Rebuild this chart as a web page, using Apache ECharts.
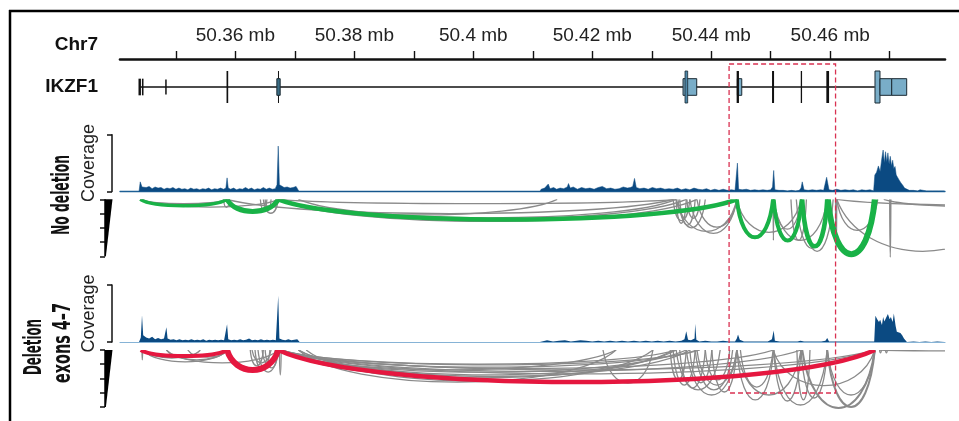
<!DOCTYPE html>
<html>
<head>
<meta charset="utf-8">
<script src="https://cdn.jsdelivr.net/npm/echarts@6/dist/echarts.min.js"></script>
<style>html,body{margin:0;padding:0;background:#fff}#c{width:959px;height:421px}</style>
</head>
<body>
<div id="c"></div>
<script>
// ---------------- data ----------------
const XMIN = 50.3406, XMAX = 50.4793;
const tickValues = [50.35, 50.36, 50.37, 50.38, 50.39, 50.40, 50.41, 50.42, 50.43, 50.44, 50.45, 50.46, 50.47];
const labelValues = [50.36, 50.38, 50.40, 50.42, 50.44, 50.46];

// gene model: [start, end, half height, kind] kind 0=black bar,1=light box,2=dark box,3=blue tall bar
const intron = [[50.3438, 50.4675]];
const geneParts = [
  [50.34371, 50.34412, 0.52, 0],
  [50.34429, 50.34455, 0.52, 0],
  [50.34820, 50.34845, 0.47, 0],
  [50.35851, 50.35879, 1, 0],
  [50.36716, 50.36732, 1, 0],
  [50.36697, 50.36753, 0.52, 2],
  [50.43526, 50.43756, 0.52, 1],
  [50.43559, 50.43604, 1, 3],
  [50.44439, 50.44513, 0.52, 1],
  [50.44427, 50.44466, 1, 0],
  [50.45022, 50.45056, 1, 0],
  [50.45505, 50.45527, 1, 0],
  [50.45935, 50.45981, 1, 0],
  [50.46753, 50.46837, 1, 1],
  [50.46837, 50.47034, 0.52, 1],
  [50.47034, 50.47286, 0.52, 1]
];
const exonLabels = ['1', '2', '3', '4', '5', '6', '7', '8'];
const exonLabelPos = [50.3440, 50.35862, 50.36719, 50.44429, 50.45027, 50.45504, 50.45958, 50.47017];
const deletionRegion = [[50.4430, 50.4609]];

// coverage [position mb, coverage]
const covNoDel = [
[50.3438,0],[50.3440,17],[50.3443,8],[50.3445,11],[50.3450,7],[50.3455,9],[50.3460,5],[50.3465,8],[50.3470,6],[50.3475,7],
[50.3480,4],[50.3485,6],[50.3490,5],[50.3495,7],[50.3500,4],[50.3505,6],[50.3510,4],[50.3515,5],[50.3520,3],[50.3525,6],
[50.3530,4],[50.3535,5],[50.3540,3],[50.3545,5],[50.3550,4],[50.3555,6],[50.3560,3],[50.3565,5],[50.3570,4],[50.3575,6],
[50.3580,4],[50.3584,6],[50.3586,24],[50.3588,6],[50.3592,4],[50.3597,6],[50.3602,3],[50.3607,5],[50.3612,4],[50.3617,7],
[50.3622,4],[50.3627,6],[50.3632,3],[50.3637,5],[50.3642,4],[50.3647,7],[50.3652,4],[50.3657,6],[50.3662,4],[50.3667,5],
[50.3670,12],[50.3672,80],[50.3674,12],[50.3677,9],[50.3682,7],[50.3687,8],[50.3692,6],[50.3697,7],[50.3702,9],[50.3705,6],
[50.3707,0],
[50.4112,0],[50.4114,4],[50.4120,6],[50.4126,13],[50.4129,5],[50.4135,7],[50.4140,4],[50.4146,6],[50.4152,5],[50.4158,8],
[50.4160,14],[50.4163,6],[50.4168,8],[50.4175,4],[50.4182,7],[50.4189,5],[50.4196,6],[50.4203,4],[50.4210,7],[50.4217,9],
[50.4224,5],[50.4231,6],[50.4238,4],[50.4245,5],[50.4252,8],[50.4259,6],[50.4264,7],[50.4268,9],[50.4271,23],[50.4274,7],
[50.4280,5],[50.4287,6],[50.4294,4],[50.4301,7],[50.4308,5],[50.4315,6],[50.4322,4],[50.4329,5],[50.4336,4],[50.4343,6],
[50.4350,3],[50.4357,5],[50.4364,3],[50.4371,6],[50.4378,4],[50.4385,3],[50.4392,5],[50.4399,2],[50.4406,4],[50.4413,2],
[50.4420,4],[50.4427,2],[50.4434,3],[50.4440,2],[50.4442,4],[50.4444,50],[50.4446,4],[50.4452,3],[50.4459,4],[50.4466,2],
[50.4473,3],[50.4480,2],[50.4487,3],[50.4494,2],[50.4500,3],[50.4503,8],[50.4505,37],[50.4507,3],[50.4514,2],[50.4521,2],
[50.4528,1],[50.4535,2],[50.4542,1],[50.4548,2],[50.4551,6],[50.4553,17],[50.4556,3],[50.4563,2],[50.4570,3],[50.4577,2],
[50.4584,3],[50.4589,2],[50.4592,5],[50.4594,25],[50.4596,14],[50.4598,3],[50.4604,2],[50.4611,4],[50.4618,2],[50.4625,3],
[50.4632,2],[50.4639,3],[50.4646,1],[50.4653,3],[50.4660,2],[50.4667,3],[50.4673,1],[50.4675,29],[50.4678,34],[50.4681,45],
[50.4684,35],[50.4687,60],[50.4689,73],[50.4691,50],[50.4693,70],[50.4695,52],[50.4697,68],[50.4699,48],[50.4701,62],[50.4703,45],
[50.4705,55],[50.4707,40],[50.4709,44],[50.4711,29],[50.4713,30],[50.4716,20],[50.4719,15],[50.4722,11],[50.4725,6],[50.4728,3],
[50.4733,2],[50.4740,2],[50.4747,1],[50.4751,3],[50.4754,1],[50.4762,1],[50.4772,1],[50.4782,1],[50.4792,1]
];
const covDel = [
[50.3438,0],[50.3441,8],[50.3443,47],[50.3445,12],[50.3450,8],[50.3455,6],[50.3460,9],[50.3465,5],[50.3470,7],[50.3475,5],
[50.3480,6],[50.3482,8],[50.3484,26],[50.3486,6],[50.3491,4],[50.3496,5],[50.3501,3],[50.3506,5],[50.3511,3],[50.3516,4],
[50.3521,3],[50.3526,5],[50.3531,3],[50.3536,4],[50.3541,3],[50.3546,5],[50.3551,2],[50.3556,4],[50.3561,3],[50.3566,4],
[50.3571,3],[50.3576,4],[50.3581,3],[50.3584,5],[50.3586,31],[50.3588,5],[50.3593,3],[50.3598,4],[50.3603,3],[50.3608,5],
[50.3613,3],[50.3618,4],[50.3623,6],[50.3628,3],[50.3633,4],[50.3638,3],[50.3643,5],[50.3648,3],[50.3653,4],[50.3658,3],
[50.3663,4],[50.3668,3],[50.3670,6],[50.3672,81],[50.3674,6],[50.3679,4],[50.3684,3],[50.3689,5],[50.3694,3],[50.3699,4],
[50.3704,5],[50.3706,3],[50.3708,0],
[50.4112,0],[50.4114,2],[50.4124,3],[50.4134,1],[50.4144,2],[50.4154,3],[50.4164,1],[50.4174,2],[50.4180,3],[50.4190,2],
[50.4200,1],[50.4210,2],[50.4220,1],[50.4230,2],[50.4240,1],[50.4250,2],[50.4260,1],[50.4270,2],[50.4280,1],[50.4290,2],
[50.4300,1],[50.4310,2],[50.4320,1],[50.4330,2],[50.4340,1],[50.4350,2],[50.4355,5],[50.4358,19],[50.4361,4],[50.4366,3],
[50.4372,6],[50.4373,32],[50.4375,4],[50.4380,1],[50.4390,2],[50.4400,1],[50.4410,1],[50.4420,2],[50.4430,1],[50.4440,1],
[50.4443,6],[50.4445,13],[50.4448,4],[50.4455,1],[50.4465,1],[50.4475,1],[50.4485,1],[50.4495,1],[50.4502,5],[50.4505,20],
[50.4507,2],[50.4515,1],[50.4525,1],[50.4535,1],[50.4545,1],[50.4550,2],[50.4553,5],[50.4556,1],[50.4565,1],[50.4575,1],
[50.4585,1],[50.4592,2],[50.4595,7],[50.4598,1],[50.4610,1],[50.4620,1],[50.4630,1],[50.4640,1],[50.4650,1],[50.4660,1],
[50.4670,1],[50.4674,1],[50.4676,46],[50.4679,40],[50.4682,35],[50.4684,39],[50.4687,30],[50.4689,44],[50.4691,36],[50.4694,33],
[50.4697,49],[50.4700,40],[50.4702,44],[50.4705,35],[50.4707,50],[50.4710,28],[50.4712,18],[50.4715,20],[50.4718,16],[50.4721,12],
[50.4724,6],[50.4727,4],[50.4729,0],[50.4740,1],[50.4750,0],[50.4760,1],[50.4770,0],[50.4780,1],[50.4792,0]
];

// junction arcs: [start mb, end mb, depth, weight]
const arcsNoDelMain = [
[50.3440,50.3586,0.45,3.5],[50.3586,50.3672,0.85,5],[50.3672,50.4443,1.42,4.5],
[50.4443,50.4504,2.67,4],[50.4505,50.4552,2.9,4],[50.4553,50.4595,3.3,4.5],[50.4596,50.4675,3.85,6]
];
const arcsNoDelOther = [
[50.3440,50.3586,0.3,1.3],[50.3443,50.3672,0.55,1.3],[50.3580,50.3590,0.56,1.3],[50.3642,50.3653,0.77,1.3],
[50.3647,50.3672,0.98,1.3],[50.3650,50.3660,0.7,1.3],[50.3672,50.4341,0.3,1.3],[50.3677,50.4358,1.4,1.3],
[50.3672,50.4376,1.55,1.3],[50.3706,50.4341,1.3,1.3],[50.3672,50.4141,1.1,1.3],[50.3586,50.4336,1.0,1.3],
[50.4341,50.4358,1.68,1.3],[50.4347,50.4373,1.82,1.3],[50.4359,50.4381,1.33,1.3],[50.4364,50.4443,2.39,1.3],
[50.4341,50.4443,2.25,1.3],[50.4376,50.4443,1.96,1.3],[50.4344,50.4390,2.0,1.3],[50.4336,50.4364,1.5,1.3],
[50.4443,50.4551,2.32,1.3],[50.4504,50.4505,2.88,1.3],[50.4505,50.4595,2.88,1.3],[50.4505,50.4551,2.1,1.3],
[50.4534,50.4560,2.88,1.3],[50.4543,50.4595,3.44,1.3],[50.4551,50.4605,3.65,1.3],[50.4609,50.4611,3.65,1.3],
[50.4611,50.4680,2.18,1.3],[50.4611,50.4900,3.65,1.3],[50.4700,50.4702,4.07,1.3],[50.4690,50.5000,0.5,1.3],
[50.4611,50.5200,0.42,1.3]
];
const arcsDelMain = [
[50.3441,50.3586,0.42,4],[50.3586,50.3672,1.40,6],[50.3672,50.4675,2.25,4.5]
];
const arcsDelOther = [
[50.3443,50.3444,0.7,1.3],[50.3445,50.3586,0.84,1.3],[50.3484,50.3586,0.7,1.3],[50.3445,50.3541,0.56,1.3],
[50.3520,50.3586,0.5,1.3],[50.3484,50.3672,0.9,1.3],[50.3625,50.3647,1.12,1.3],[50.3633,50.3658,1.4,1.3],
[50.3638,50.3672,1.55,1.3],[50.3650,50.3672,1.26,1.3],[50.3645,50.3667,1.0,1.3],[50.3628,50.3660,0.9,1.3],
[50.3674,50.3677,1.75,1.3],[50.3677,50.4341,1.0,1.3],[50.3677,50.4381,1.05,1.3],[50.3672,50.4675,1.4,1.3],
[50.3672,50.4675,1.68,1.3],[50.3706,50.4240,2.25,1.3],[50.3719,50.4302,2.18,1.3],[50.3677,50.4336,1.96,1.3],
[50.3706,50.4341,1.75,1.3],[50.4218,50.4302,2.32,1.3],[50.3677,50.4240,1.4,1.3],[50.3672,50.4358,1.55,1.3],
[50.3672,50.4376,1.2,1.3],[50.3706,50.4364,1.85,1.3],[50.4331,50.4358,2.1,1.3],[50.4336,50.4373,2.46,1.3],
[50.4341,50.4415,2.8,1.3],[50.4358,50.4443,3.16,1.3],[50.4376,50.4443,2.46,1.3],[50.4390,50.4431,2.1,1.3],
[50.4401,50.4443,2.95,1.3],[50.4347,50.4390,2.67,1.3],[50.4364,50.4401,2.3,1.3],[50.4373,50.4436,2.8,1.3],
[50.4443,50.4505,3.5,1.3],[50.4449,50.4504,2.6,1.3],[50.4505,50.4551,3.58,1.3],[50.4505,50.4595,3.86,1.3],
[50.4551,50.4595,3.37,1.3],[50.4553,50.4675,4.07,2],[50.4595,50.4675,4.0,2],[50.4544,50.4566,3.5,1.3],
[50.4504,50.4675,2.5,1.3],[50.4443,50.4551,3.16,1.3],[50.3677,50.4505,1.3,1.3],[50.3677,50.4551,1.5,1.3],
[50.4595,50.4675,3.16,1.3],[50.4683,50.5100,0.07,1.3],[50.4683,50.4686,0.2,1.3],[50.4693,50.4696,0.2,1.3]
];
const sashimiTicks = [0, 1, 2, 3, 4];

// ---------------- styles / layout ----------------
const FONT = '"Liberation Sans", Arial, Helvetica, sans-serif';
const NARROW = '"Liberation Sans Narrow", "DejaVu Sans Condensed", "Arial Narrow", sans-serif';
const COV = '#0b4a82';
const GREEN = '#19b247', RED = '#e5173f', GRAY = '#8a8a8a', BOXRED = '#d93252';
const L = 120, R = 14;

const grids = [
  {left: L, right: R, top: 58, height: 1},        // 0 ruler
  {left: L, right: R, top: 71, height: 32},       // 1 gene
  {left: L, right: R, top: 134.7, height: 56.8},  // 2 coverage no deletion
  {left: L, right: R, top: 199.3, height: 64.1},  // 3 sashimi no deletion
  {left: L, right: R, top: 285, height: 57},      // 4 coverage deletion
  {left: L, right: R, top: 350, height: 64.1},    // 5 sashimi deletion
  {left: L, right: R, top: 64, height: 329}       // 6 overlay
];

function xAx(i, extra) {
  return Object.assign({type: 'value', gridIndex: i, min: XMIN, max: XMAX, show: false,
    splitLine: {show: false}}, extra || {});
}
const xAxes = [
  xAx(0, {show: true, position: 'top',
    axisLine: {show: true, lineStyle: {color: '#111', width: 2.6}},
    axisTick: {show: true, customValues: tickValues, length: 8, inside: false, lineStyle: {color: '#111', width: 1.4}},
    axisLabel: {show: true, customValues: labelValues, margin: 13, fontSize: 19, fontFamily: FONT, color: '#222',
      formatter: v => (+(+v).toFixed(2)) + ' mb'}}),
  xAx(1),
  xAx(2, {show: true, axisLine: {show: true, onZero: true, lineStyle: {color: '#1d5f95', width: 1.3}},
    axisTick: {show: false}, axisLabel: {show: false}}),
  xAx(3),
  xAx(4, {show: true, axisLine: {show: true, onZero: true, lineStyle: {color: '#86b3d6', width: 1.1}},
    axisTick: {show: false}, axisLabel: {show: false}}),
  xAx(5),
  xAx(6)
];
function covY(i) {
  return {type: 'value', gridIndex: i, min: 0, max: 100, offset: 8,
    axisLine: {show: true, lineStyle: {color: '#111', width: 1.5}},
    axisTick: {show: true, customValues: [0, 100], length: 5, lineStyle: {color: '#111', width: 1.5}},
    axisLabel: {show: false}, splitLine: {show: false},
    name: 'Coverage', nameLocation: 'middle', nameGap: 14,
    nameTextStyle: {fontSize: 18, fontFamily: FONT, color: '#222'}};
}
function sashY(i) {
  return {type: 'value', gridIndex: i, min: 0, max: 4.5, inverse: true, offset: 15,
    axisLine: {show: false}, axisLabel: {show: false}, splitLine: {show: false},
    axisTick: {show: true, customValues: sashimiTicks, length: 5, lineStyle: {color: '#111', width: 1.5}}};
}
const yAxes = [
  {type: 'value', gridIndex: 0, show: false},
  {type: 'value', gridIndex: 1, min: -1, max: 1, show: false},
  covY(2), sashY(3), covY(4), sashY(5),
  {type: 'value', gridIndex: 6, min: 0, max: 1, show: false}
];

function arcRender(color) {
  return function (params, api) {
    const s = api.value(0), e = api.value(1), d = api.value(2), w = api.value(3);
    const p0 = api.coord([s, 0]), p3 = api.coord([e, 0]);
    const pd = api.coord([s, d * 4 / 3]);
    const len = p3[0] - p0[0];
    return {type: 'bezierCurve',
      shape: {x1: p0[0], y1: p0[1], x2: p3[0], y2: p3[1],
        cpx1: p0[0] + 0.15 * len, cpy1: pd[1], cpx2: p3[0] - 0.15 * len, cpy2: pd[1]},
      style: {stroke: color, lineWidth: w, fill: null}};
  };
}
function arcSeries(gi, data, color, z) {
  return {type: 'custom', xAxisIndex: gi, yAxisIndex: gi, data: data, clip: true, silent: true, z: z,
    renderItem: arcRender(color)};
}
function wedgeSeries(gi) {
  return {type: 'custom', xAxisIndex: gi, yAxisIndex: gi, data: [[XMIN, 0]], silent: true, z: 5,
    renderItem: function (params, api) {
      const top = api.coord([XMIN, sashimiTicks[0]]), bot = api.coord([XMIN, sashimiTicks[sashimiTicks.length - 1]]);
      const ax = top[0] - 15;
      return {type: 'group', children: [
        {type: 'polygon', shape: {points: [[ax, top[1]], [ax + 7.5, top[1]], [ax + 0.9, bot[1]], [ax, bot[1]]]},
          style: {fill: '#000'}},
        {type: 'line', shape: {x1: ax, y1: top[1], x2: ax, y2: bot[1]}, style: {stroke: '#000', lineWidth: 1.5}}
      ]};
    }};
}
const geneStyle = [
  {fill: '#111', stroke: null},
  {fill: '#79adc8', stroke: '#1b2a33', lineWidth: 1},
  {fill: '#3b6e86', stroke: '#1b2a33', lineWidth: 1},
  {fill: '#4f88a8', stroke: '#1b2a33', lineWidth: 0.8}
];

const series = [
  {type: 'custom', xAxisIndex: 1, yAxisIndex: 1, data: intron, silent: true, z: 2,
    renderItem: function (p, api) {
      const a = api.coord([api.value(0), 0]), b = api.coord([api.value(1), 0]);
      return {type: 'line', shape: {x1: a[0], y1: a[1], x2: b[0], y2: b[1]}, style: {stroke: '#111', lineWidth: 1.5}};
    }},
  {type: 'custom', xAxisIndex: 1, yAxisIndex: 1, data: geneParts, silent: true, z: 3,
    renderItem: function (p, api) {
      const a = api.coord([api.value(0), api.value(2)]), b = api.coord([api.value(1), -api.value(2)]);
      const st = geneStyle[api.value(3)];
      return {type: 'rect', shape: {x: a[0], y: a[1], width: Math.max(b[0] - a[0], 1), height: b[1] - a[1]},
        style: Object.assign({}, st)};
    }},
  {type: 'scatter', xAxisIndex: 1, yAxisIndex: 1, symbolSize: 1, silent: true,
    itemStyle: {color: 'rgba(0,0,0,0)'},
    data: exonLabels.map((t, i) => ({name: t, value: [exonLabelPos[i], -1.94]})),
    label: {show: true, position: 'inside', formatter: '{b}', fontSize: 18, fontFamily: FONT, color: '#111'}},
  {type: 'line', xAxisIndex: 2, yAxisIndex: 2, data: covNoDel, symbol: 'none', silent: true,
    lineStyle: {width: 0.5, color: COV}, areaStyle: {color: COV, opacity: 1}},
  {type: 'line', xAxisIndex: 4, yAxisIndex: 4, data: covDel, symbol: 'none', silent: true,
    lineStyle: {width: 0, color: COV}, areaStyle: {color: COV, opacity: 1}},
  arcSeries(3, arcsNoDelOther, GRAY, 3),
  arcSeries(3, arcsNoDelMain, GREEN, 4),
  arcSeries(5, arcsDelOther, GRAY, 3),
  arcSeries(5, arcsDelMain, RED, 4),
  wedgeSeries(3), wedgeSeries(5),
  {type: 'custom', xAxisIndex: 6, yAxisIndex: 6, data: deletionRegion, silent: true, z: 10,
    renderItem: function (p, api) {
      const a = api.coord([api.value(0), 1]), b = api.coord([api.value(1), 0]);
      return {type: 'rect', shape: {x: a[0], y: a[1], width: b[0] - a[0], height: b[1] - a[1]},
        style: {fill: null, stroke: BOXRED, lineWidth: 1.3, lineDash: [5, 3]}};
    }}
];

// condensed bold side labels: squeeze the text along its length to the reference length
const measureCtx = document.createElement('canvas').getContext('2d');
function sideLabel(text, x, y, targetLen) {
  const font = 'bold 24px ' + NARROW;
  measureCtx.font = font;
  const w = measureCtx.measureText(text).width || targetLen;
  return {type: 'text', x: x, y: y, rotation: Math.PI / 2, scaleX: Math.min(1, targetLen / w), scaleY: 1,
    style: {text: text, font: font, align: 'center', verticalAlign: 'middle', fill: '#111'}};
}

const graphic = [
  {type: 'line', shape: {x1: 9, y1: 11, x2: 959, y2: 11}, style: {stroke: '#000', lineWidth: 2.5}},
  {type: 'line', shape: {x1: 10, y1: 10, x2: 10, y2: 421}, style: {stroke: '#000', lineWidth: 2.5}},
  {type: 'text', x: 98, y: 45, style: {text: 'Chr7', font: 'bold 19px ' + FONT, align: 'right', verticalAlign: 'middle', fill: '#111'}},
  {type: 'text', x: 98, y: 87, style: {text: 'IKZF1', font: 'bold 19px ' + FONT, align: 'right', verticalAlign: 'middle', fill: '#111'}},
  sideLabel('No deletion', 63, 195, 80),
  sideLabel('Deletion', 35, 347, 56),
  sideLabel('exons 4\u20137', 64, 343, 80)
];

const chart = echarts.init(document.getElementById('c'), null, {renderer: 'canvas'});
chart.setOption({
  animation: false,
  backgroundColor: '#fff',
  grid: grids,
  xAxis: xAxes,
  yAxis: yAxes,
  series: series,
  graphic: graphic
});
</script>
</body>
</html>
